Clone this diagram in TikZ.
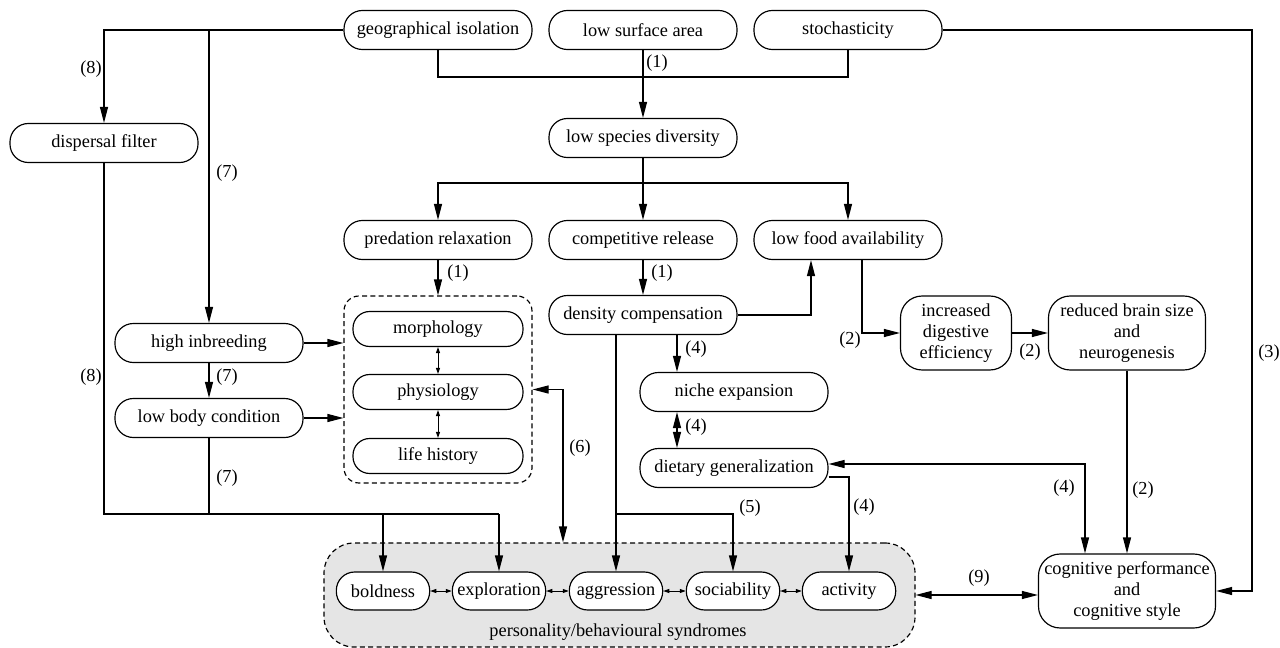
\documentclass[tikz,border=0pt]{standalone}
\usepackage{fontspec}
\setmainfont{Liberation Serif}
\usetikzlibrary{arrows.meta}
\definecolor{syndrome-bg}{HTML}{E5E5E5}

\begin{document}
\begin{tikzpicture}[x=0.6pt, y=-0.6pt,
    every node/.style={font=\fontsize{11}{12.6}\selectfont},
    box/.style={draw, fill=white, line width=0.7pt, rounded corners=11pt,
      minimum width=112.8pt, minimum height=23.4pt, inner sep=0pt, align=center},
    trait/.style={box, minimum width=102pt, minimum height=21pt, rounded corners=10pt},
    pers/.style={box, minimum width=56pt, minimum height=22.8pt},
    tall/.style={box, minimum height=44.4pt, rounded corners=13pt},
    lbl/.style={inner sep=0pt},
    link/.style={line width=0.7pt},
    arr/.style={link, -{Triangle[length=9.6pt,width=4.8pt]}},
    dbl/.style={link, {Triangle[length=9.6pt,width=4.8pt]}-{Triangle[length=9.6pt,width=4.8pt]}},
    tiny/.style={line width=0.6pt, {Triangle[length=3.6pt,width=2.4pt]}-{Triangle[length=3.6pt,width=2.4pt]}}]
    % Coordinates in pixels of a 1280 x 648 canvas, y grows downwards.
    \useasboundingbox (0,0) rectangle (1280,648);

    % background groups
    \node[draw, dashed, dash pattern=on 3pt off 2pt, fill=syndrome-bg, line width=0.7pt,
          rounded corners=18pt, minimum width=354.6pt, minimum height=62.4pt] (synd) at (619.5,595) {};
    \node[lbl] (synd-lbl) at (618,632) {personality/behavioural syndromes};
    \node[draw, dashed, dash pattern=on 3pt off 2pt, line width=0.7pt, rounded corners=9pt,
          minimum width=112.8pt, minimum height=112.2pt] (grp) at (438,389.5) {};

    % causes
    \node[box] (geo) at (438,30) {geographical isolation};
    \node[box] (surf) at (643,30) {low surface area};
    \node[box] (stoch) at (848,30) {stochasticity};
    \node[box] (disp) at (104,143) {dispersal filter};
    \node[box] (lsd) at (643,138) {low species diversity};
    \node[box] (pred) at (438,240) {predation relaxation};
    \node[box] (comp) at (643,240) {competitive release};
    \node[box] (food) at (848,240) {low food availability};
    \node[box] (dens) at (643,315) {density compensation};
    \node[box] (inbr) at (209,343) {high inbreeding};
    \node[box] (lbc) at (209,418) {low body condition};
    \node[box] (niche) at (734,392) {niche expansion};
    \node[box] (diet) at (734,468) {dietary generalization};

    % traits
    \node[trait] (morph) at (438,329) {morphology};
    \node[trait] (phys) at (438,392) {physiology};
    \node[trait] (life) at (438,456) {life history};

    % cognition
    \node[tall, minimum width=66.6pt] (dig) at (956,333) {increased\\digestive\\efficiency};
    \node[tall, minimum width=94.2pt] (brain) at (1127,333) {reduced brain size\\and\\neurogenesis};
    \node[tall, minimum width=106.2pt] (cogn) at (1127,591) {cognitive performance\\and\\cognitive style};

    % personality
    \node[pers] (bold) at (383,591) {boldness};
    \node[pers] (expl) at (499,591) {exploration};
    \node[pers] (aggr) at (616,591) {aggression};
    \node[pers] (soci) at (733,591) {sociability};
    \node[pers] (acti) at (849,591) {activity};

    % lanes
    \coordinate (j-top) at (643,77);
    \coordinate (j-lsd) at (643,183);
    \coordinate (j-low) at (499,514);
    \coordinate (lane-food) at (811,0);
    \coordinate (lane-dig) at (862,0);
    \coordinate (lane-stoch) at (1252,0);
    \coordinate (lane-six) at (563,0);
    \coordinate (lane-niche) at (677,0);
    \coordinate (lane-cog) at (1085,0);

    % (1)
    \draw[link] (geo.south) |- (j-top) -| (stoch.south);
    \draw[arr] (surf) -- (lsd);
    \draw[link] (lsd) -- (j-lsd);
    \draw[arr] (j-lsd) -| (pred.north);
    \draw[arr] (j-lsd) -| (food.north);
    \draw[arr] (j-lsd) -- (comp.north);
    \draw[arr] (pred) -- (grp);
    \draw[arr] (comp) -- (dens);
    \draw[arr] (dens.east) -| (lane-food |- food.south);

    % (2), (3)
    \draw[arr] (lane-dig |- food.south) |- (dig.west);
    \draw[arr] (dig) -- (brain);
    \draw[arr] (brain) -- (cogn);
    \draw[arr] (stoch.east) -| (lane-stoch |- cogn.east) -- (cogn.east);

    % (7), (8)
    \draw[arr] (geo.west) -| (disp.north);
    \draw[arr] (geo.west -| inbr.north) -- (inbr.north);
    \draw[arr] (inbr) -- (inbr.east -| grp.west);
    \draw[arr] (lbc) -- (lbc.east -| grp.west);
    \draw[arr] (inbr) -- (lbc);
    \draw[link] (disp.south) |- (j-low);
    \draw[link] (lbc.south) -- (lbc.south |- j-low);
    \draw[arr] (bold.north |- j-low) -- (bold.north);
    \draw[arr] (j-low) -- (expl.north);

    % (6)
    \draw[dbl] (grp.east) -| (lane-six |- synd.north);

    % (4), (5)
    \draw[arr] (aggr.north |- dens.south) -- (aggr.north);
    \draw[arr] (aggr.north |- j-low) -| (soci.north);
    \draw[arr] (lane-niche |- dens.south) -- (lane-niche |- niche.north);
    \draw[dbl] (lane-niche |- niche.south) -- (lane-niche |- diet.north);
    \draw[dbl] ([yshift=2.4pt]diet.east) -| (lane-cog |- cogn.north);
    \draw[arr] ([yshift=-5.4pt]diet.east) -| (acti.north);

    % (9)
    \draw[dbl] (synd.east) -- (synd.east -| cogn.west);

    % small links
    \draw[tiny] (morph) -- (phys);
    \draw[tiny] (phys) -- (life);
    \foreach \a/\b in {bold/expl, expl/aggr, aggr/soci, soci/acti}
      \draw[tiny] (\a) -- (\b);

    % path numbers
    \node[lbl] (n-top1) at (657,63) {(1)};
    \node[lbl] (n-pred1) at (458,273) {(1)};
    \node[lbl] (n-comp1) at (662,273) {(1)};
    \node[lbl] (n-food2) at (850,340) {(2)};
    \node[lbl] (n-dig2) at (1030,352) {(2)};
    \node[lbl] (n-brain2) at (1143,490) {(2)};
    \node[lbl] (n-stoch3) at (1269,353) {(3)};
    \node[lbl] (n-disp8) at (91,69) {(8)};
    \node[lbl] (n-low8) at (91,377) {(8)};
    \node[lbl] (n-inbr7) at (227,173) {(7)};
    \node[lbl] (n-lbc7) at (227,377) {(7)};
    \node[lbl] (n-pers7) at (227,478) {(7)};
    \node[lbl] (n-six) at (580,448) {(6)};
    \node[lbl] (n-dens4) at (696,349) {(4)};
    \node[lbl] (n-niche4) at (696,427) {(4)};
    \node[lbl] (n-cogn4) at (1064,488) {(4)};
    \node[lbl] (n-acti4) at (864,507) {(4)};
    \node[lbl] (n-soci5) at (750,508) {(5)};
    \node[lbl] (n-nine) at (979,578) {(9)};
\end{tikzpicture}
\end{document}
